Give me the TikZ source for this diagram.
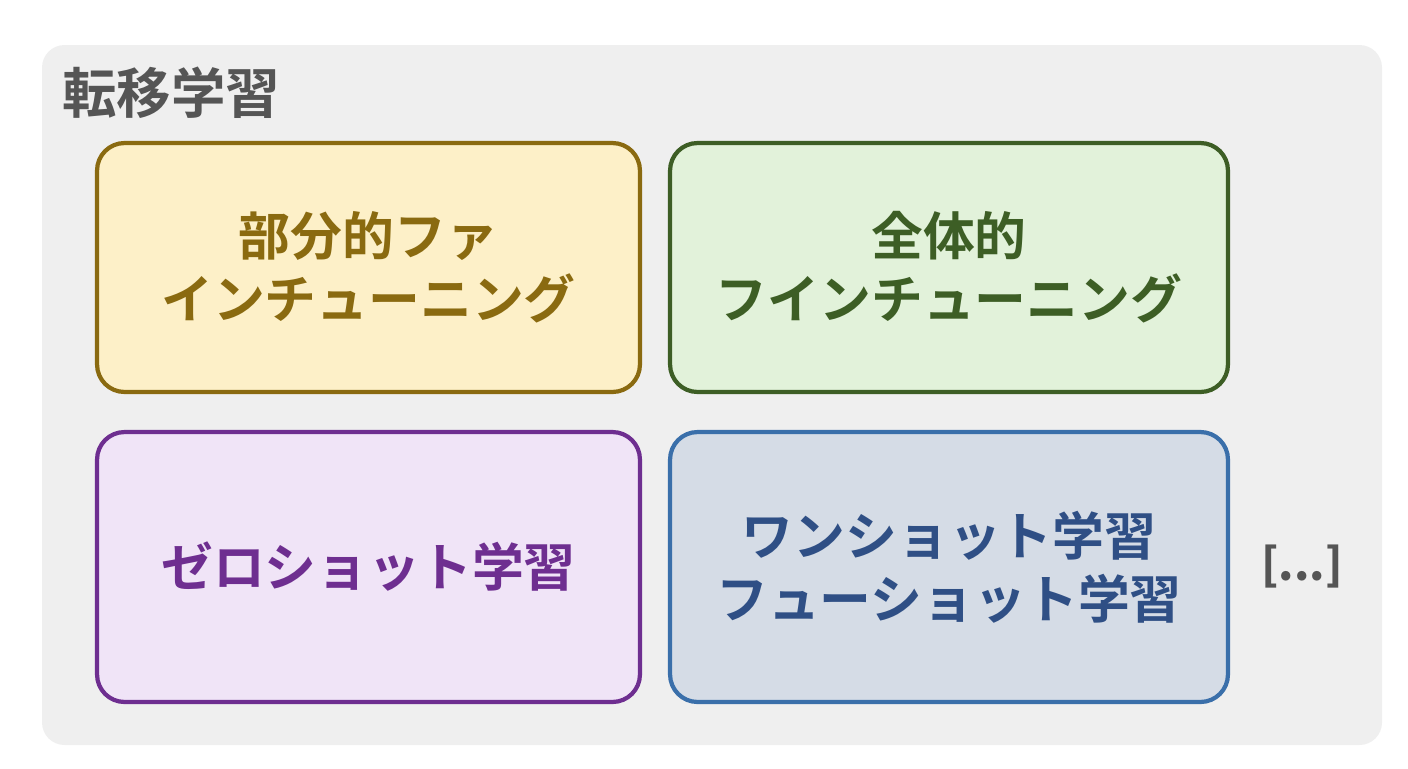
\documentclass[tikz,border=0pt]{standalone}
\usepackage{fontspec}
\setmainfont{Noto Sans CJK JP}
\newfontfamily\cjkbold{Noto Sans CJK JP Bold}
\usetikzlibrary{positioning}
\definecolor{panelfill}{HTML}{EFEFEF}
\definecolor{titlegray}{HTML}{555555}
\definecolor{yelfill}{HTML}{FDF0C8}
\definecolor{yeldraw}{HTML}{8A6A10}
\definecolor{grnfill}{HTML}{E2F2DA}
\definecolor{grndraw}{HTML}{3D5E25}
\definecolor{purfill}{HTML}{F0E4F7}
\definecolor{purdraw}{HTML}{6E2E90}
\definecolor{blufill}{HTML}{D5DCE6}
\definecolor{bludraw}{HTML}{3A6FAA}
\definecolor{blutext}{HTML}{2F4F85}
\tikzset{
  method/.style={draw, line width=2.4pt, rounded corners=0.55cm, align=center,
    font=\cjkbold\fontsize{29.5}{36}\selectfont, inner sep=0pt}
}
\begin{document}
\begin{tikzpicture}[x=0.02cm, y=-0.02cm]
				\useasboundingbox (0,0) rectangle (1408,768);
				% panel
				\fill[panelfill, rounded corners=0.45cm] (42,45) rectangle (1382,745);
				\node[anchor=west, text=titlegray, font=\cjkbold\fontsize{31}{36}\selectfont] (title) at (56,93) {転移学習};
				
				\node[method, fill=yelfill, draw=yeldraw, text=yeldraw, minimum width=10.86cm, minimum height=4.98cm] (partial) at (368.5,267.5) {部分的ファ\\インチューニング};
				\node[method, fill=grnfill, draw=grndraw, text=grndraw, minimum width=11.16cm, minimum height=4.98cm] (full) at (949,267.5) {全体的\\フインチューニング};
				\node[method, fill=purfill, draw=purdraw, text=purdraw, minimum width=10.86cm, minimum height=5.4cm] (zero) at (368.5,567) {ゼロショット学習};
				\node[method, fill=blufill, draw=bludraw, text=blutext, minimum width=11.16cm, minimum height=5.4cm] (few) at (949,567) {ワンショット学習\\フューショット学習};
				\node[right=0.5cm of few, text=titlegray, font=\bfseries\fontsize{25}{30}\selectfont] (more) {[...]};
		\end{tikzpicture}
\end{document}
